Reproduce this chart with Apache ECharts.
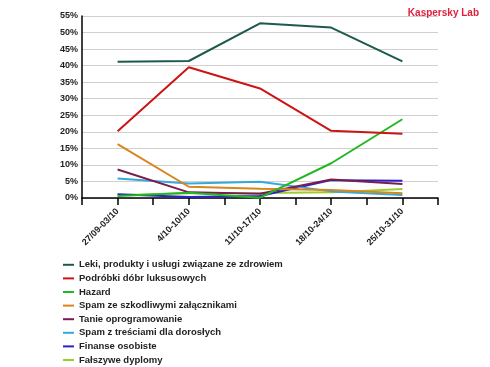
<!DOCTYPE html>
<html><head><meta charset="utf-8">
<script src="https://cdn.jsdelivr.net/npm/echarts@6/dist/echarts.min.js"></script>
<style>html,body{margin:0;padding:0;background:#fff}#c{width:490px;height:367px}</style>
</head><body><div id="c"></div>
<script>
const categories = ["27/09-03/10", "4/10-10/10", "11/10-17/10", "18/10-24/10", "25/10-31/10"];
const yTicks = [0, 5, 10, 15, 20, 25, 30, 35, 40, 45, 50, 55];
const names = ["Leki, produkty i usługi związane ze zdrowiem", "Podróbki dóbr luksusowych", "Hazard", "Spam ze szkodliwymi załącznikami", "Tanie oprogramowanie", "Spam z treściami dla dorosłych", "Finanse osobiste", "Fałszywe dyplomy"];
const colors = ["#1d5a4e", "#cc1414", "#22b822", "#d8861c", "#7a1c4e", "#35a8dc", "#2a22c8", "#9ccc2e"];
const leki = [41.2, 41.4, 52.8, 51.5, 41.3];
const podrobki = [20.2, 39.5, 33.1, 20.3, 19.4];
const hazard = [0.6, 1.6, 0.1, 10.5, 23.8];
const spamSzkodliwy = [16.3, 3.4, 2.8, 2.4, 1.4];
const tanie = [8.6, 1.7, 1.3, 5.6, 4.2];
const dorosli = [5.9, 4.4, 4.9, 2.0, 0.9];
const finanse = [1.1, 0.3, 0.6, 5.4, 5.2];
const dyplomy = [0.8, 1.4, 1.5, 1.7, 2.7];
const allData = [leki, podrobki, hazard, spamSzkodliwy, tanie, dorosli, finanse, dyplomy];

const chart = echarts.init(document.getElementById('c'), null, {renderer: 'canvas'});
const series = names.map((n, i) => ({
  name: n, type: 'line', symbol: 'none', smooth: false,
  lineStyle: {width: 2, color: colors[i]}, itemStyle: {color: colors[i]},
  z: 10 - i,
  data: allData[i].map((v, j) => [2 * j + 1, v])
})).reverse();
chart.setOption({
  animation: false,
  title: {text: 'Kaspersky Lab', right: 6, top: 3, textStyle: {color: '#e0203c', fontSize: 10, fontWeight: 'bold', fontFamily: 'Liberation Sans'}},
  grid: {left: 82, right: 52, top: 16, bottom: 169},
  xAxis: {type: 'value', min: 0, max: 10, interval: 1,
    axisLine: {show: true, lineStyle: {color: '#000', width: 1.5}},
    axisTick: {show: true, length: 7, lineStyle: {color: '#000', width: 1.5}},
    splitLine: {show: false},
    axisLabel: {rotate: 45, margin: 12, color: '#222', fontSize: 9, fontWeight: 'bold', fontFamily: 'Liberation Sans',
      formatter: v => (v % 2 === 1 ? categories[(v - 1) / 2] : '')}
  },
  yAxis: {type: 'value', min: yTicks[0], max: yTicks[yTicks.length - 1], interval: 5,
    axisLine: {show: true, lineStyle: {color: '#000', width: 1.5}},
    axisTick: {show: false},
    splitLine: {lineStyle: {color: '#d0d0d0', width: 1}},
    axisLabel: {margin: 4, color: '#222', fontSize: 9, fontWeight: 'bold', fontFamily: 'Liberation Sans', formatter: '{value}%'}
  },
  legend: {orient: 'vertical', left: 58, top: 254, height: 113, itemWidth: 11, itemHeight: 2, itemGap: 2,
    icon: 'rect', data: names,
    textStyle: {color: '#222', fontSize: 9.5, fontWeight: 'bold', fontFamily: 'Liberation Sans', lineHeight: 11.6, padding: [0,0,0,0]}
  },
  series: series
});
</script></body></html>
